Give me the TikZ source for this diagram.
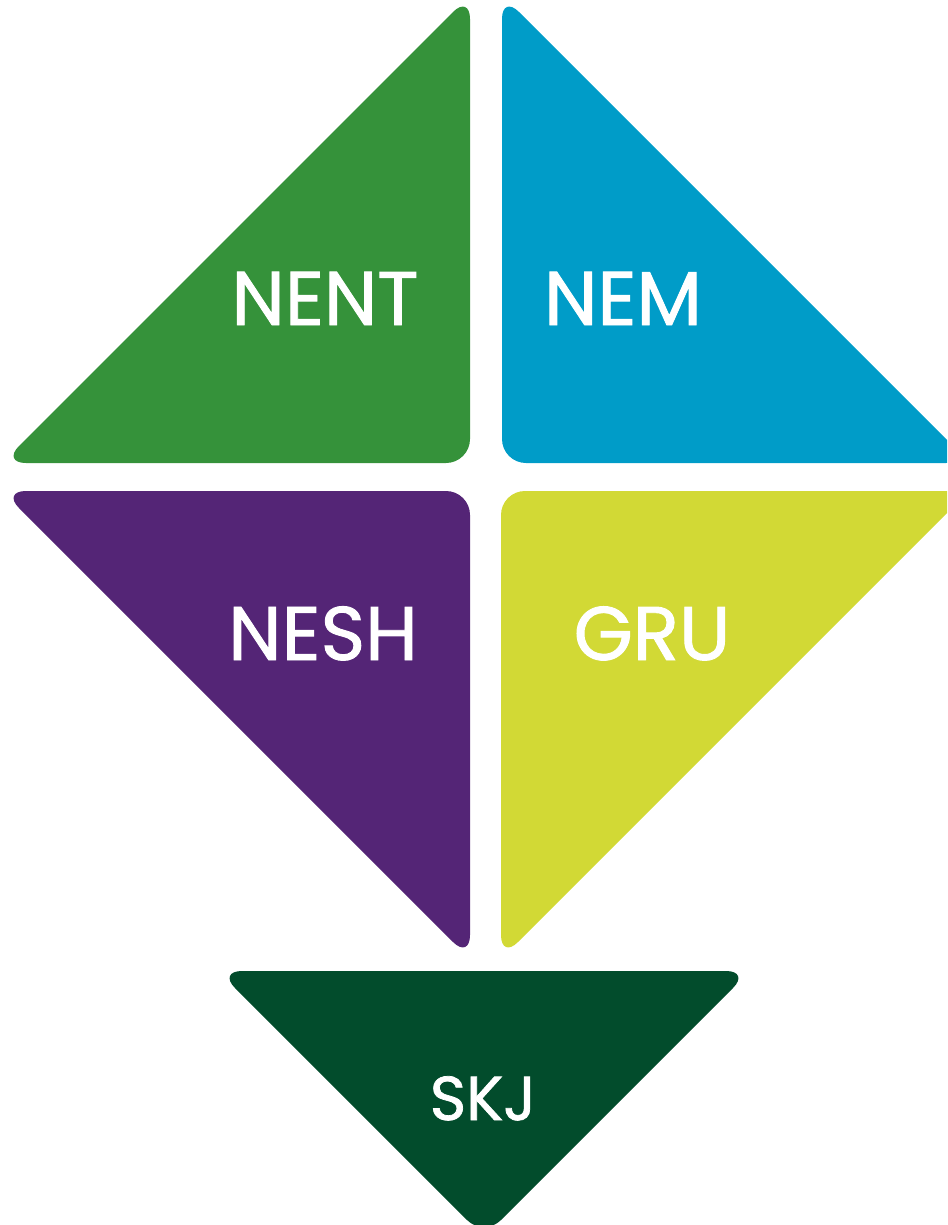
\documentclass[tikz,border=0pt]{standalone}
\usepackage{fontspec}
\newfontfamily\labelfont[FakeBold=1.2]{Poppins}
\definecolor{cgreen}{HTML}{35923A}
\definecolor{cblue}{HTML}{009CC8}
\definecolor{cpurple}{HTML}{542576}
\definecolor{cyellow}{HTML}{D2D935}
\definecolor{cdark}{HTML}{024C2C}
\begin{document}
\begin{tikzpicture}[x=1pt,y=-1pt,
  tri/.style={rounded corners=24pt},
  lbl/.style={text=white,anchor=base,inner sep=0pt,font=\labelfont\fontsize{76}{80}\selectfont},
  lbls/.style={lbl,font=\labelfont\fontsize{62}{66}\selectfont}]
\useasboundingbox (0,0) rectangle (947,1225);
\clip (0,0) rectangle (947,1225);
\fill[cgreen,tri] (470,-5) -- (470,463) -- (2,463) -- cycle;
\fill[cblue,tri] (502,-5) -- (970,463) -- (502,463) -- cycle;
\fill[cpurple,tri] (2,491) -- (470,491) -- (470,959) -- cycle;
\fill[cyellow,tri] (501,491) -- (969,491) -- (501,959) -- cycle;
\fill[cdark,tri] (218,971) -- (750,971) -- (484,1237) -- cycle;
\node[lbl] (nent) at (325,325) {NENT};
\node[lbl] (nem) at (623,325) {NEM};
\node[lbl] (nesh) at (323,660) {NESH};
\node[lbl] (gru) at (652,660) {GRU};
\node[lbls] (skj) at (483,1120) {SKJ};
\end{tikzpicture}
\end{document}
